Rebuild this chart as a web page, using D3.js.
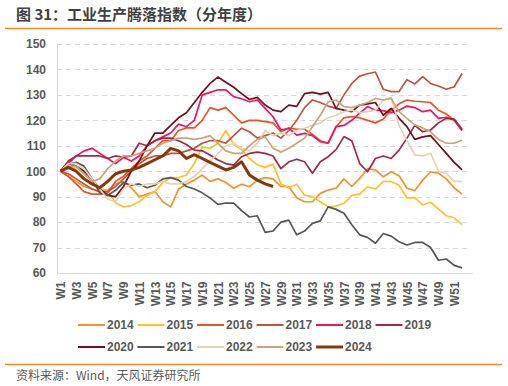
<!DOCTYPE html>
<html>
<head>
<meta charset="utf-8">
<script src="https://cdn.jsdelivr.net/npm/d3@7"></script>
<style>
  body { margin: 0; background: #fff; }
  text { font-family: "Liberation Sans", Arial, "Noto Sans CJK SC", sans-serif; }
  .cjk { font-family: "Noto Sans CJK SC", sans-serif; }
</style>
</head>
<body>
<div id="chart"></div>
<script>
const weeks = d3.range(1, 53).map(i => 'W' + i);
const years = ['2014', '2015', '2016', '2017', '2018', '2019', '2020', '2021', '2022', '2023', '2024'];
const colors = ['#F7922A', '#FFC22E', '#EA5328', '#C5503D', '#F2145C', '#A3284A',
  '#6C111C', '#565656', '#E4D2B4', '#C9A47C', '#84390D'];
const yTicks = [60, 70, 80, 90, 100, 110, 120, 130, 140, 150];

const s2014 = [100, 98, 96, 94, 93, 92, 92.5, 95, 96, 93.5, 90, 91, 92, 88, 86, 93, 95, 96.5, 98.5, 96,
  97, 95.6, 93.3, 94.9, 93.9, 96.5, 97.5, 97, 94, 94, 89.6, 88, 88, 91.3, 92.6, 93.3, 97, 94, 97.2, 101,
  100.5, 97.8, 99.8, 98.2, 93.3, 92.4, 96.5, 99.8, 99.2, 97, 93.5, 91];
const s2015 = [100, 101, 101.5, 99, 96, 93, 92.5, 87.5, 86, 86.5, 88, 90.5, 92, 95.5, 97.5, 97.5, 98.5, 103, 109.5, 109,
  111, 116, 110.5, 108.5, 105, 102.5, 101.5, 102.8, 95, 93.5, 94.9, 90.6, 90, 88, 86, 86.3, 87.4, 90.5, 91, 93.9,
  93, 96, 96, 94.5, 89.5, 89.6, 86.8, 87.8, 85.2, 82.5, 81.7, 79];
const s2016 = [100, 98, 95, 92, 91, 91, 91.5, 96, 98, 101, 104, 106, 109, 112, 112, 116, 117, 117, 120, 125,
  124, 125, 122, 119, 120, 120, 119.5, 119, 115.5, 117, 116.5, 116.5, 114.5, 112, 111, 117.5, 121, 121.5, 121, 120,
  119, 120.5, 124, 126.5, 128, 127.5, 127.3, 127, 124, 122.5, 120, 116];
const s2017 = [100, 99, 97, 95, 93, 92, 92, 94, 97, 100, 103, 105, 106, 106, 107, 107, 108, 109, 111, 112,
  112, 111, 114, 116.9, 115.5, 113, 114, 115, 113, 116, 120, 125, 128, 127, 125.6, 124.7, 130, 134.5, 137.4, 138.3,
  139, 132.2, 131.3, 131.3, 136, 134.3, 137.2, 134.5, 133.5, 132.2, 133.2, 138.4];
const s2018 = [100, 103, 106, 108, 109, 107, 105, 103, 105.5, 104, 106, 110, 112, 113.5, 115, 118.5, 117.5, 120, 130, 131,
  132, 132, 129.3, 128.5, 127.3, 128, 124.7, 121.4, 116.2, 116.9, 114.2, 114.9, 114, 111.6, 111, 117.5, 118, 120, 122.8, 125.4,
  124, 123.8, 123, 124, 125.6, 125, 123.4, 124, 120.8, 121.2, 120.1, 116];
const s2019 = [100, 104, 106, 106, 106, 106, 105, 106, 105.5, 106, 111, 110, 112, 113, 113, 112, 110.5, 108.3, 108, 106.4,
  104.4, 103, 102.4, 105.7, 107, 107.5, 107, 106, 101, 103.7, 104.7, 103.7, 99.2, 103.7, 105.7, 108.5, 113.6, 112, 103, 99.8,
  105, 106, 105, 108.3, 113, 118, 115.5, 116.2, 119, 120.8, 120.5, 116.5];
const s2020 = [100, 103, 102, 100, 97, 93, 90.5, 90, 94, 100, 104, 110, 115, 115, 118, 121, 123, 127, 131, 134.5,
  137, 135, 133, 130.5, 128.2, 129, 126, 124, 123.4, 126, 125.5, 130.5, 131, 130.3, 131, 124.7, 124, 123.4, 126, 126.5,
  127, 122, 124.7, 120.8, 117.5, 112.5, 113.5, 114, 110.5, 107, 103.5, 100.5];
const s2021 = [100, 102.7, 103.5, 102, 97, 91.5, 90.5, 92.5, 95.5, 94.5, 95, 93.5, 94.5, 97, 97.5, 96.5, 94, 93, 91.5, 89.5,
  87, 87.5, 87.5, 84.5, 82, 82.5, 76, 76.5, 80, 80.8, 75, 76.5, 79.5, 80.5, 86, 85, 83.5, 79, 75, 74,
  71.7, 75.5, 74.5, 72.3, 71, 72, 72, 70, 65, 65.5, 63, 62];
const s2022 = [100, 103, 103, 101, 97, 93, 89, 88, 93, 95, 94, 95, 95, 96, 95, 95, 96, 98, 101, 104,
  107, 110, 111, 109, 108, 111, 116, 114, 115, 114, 116, 116.9, 118, 119, 121, 122, 123.4, 124, 123, 123.4,
  124, 128, 129, 118, 112, 106.4, 106, 107, 100, 99.2, 96, 96];
const s2023 = [100, 102, 102, 99, 96, 97, 101, 104, 106, 106, 107, 108, 109, 111, 112, 113, 113, 112.5, 113, 114,
  111, 108, 107, 107, 110, 112.5, 113.5, 109, 107.5, 109, 111, 113, 117.5, 122, 127.3, 128, 125.4, 125, 126, 127,
  128.6, 128, 128.6, 123.4, 120.8, 118.2, 117, 115.5, 112.5, 111, 111, 112.3];
const s2024 = [100, 101.5, 100, 97, 95, 93.5, 96, 99, 100, 100.5, 101.5, 103, 104.5, 106, 109, 108, 105, 106.5, 105, 103.5,
  102, 100.5, 101.5, 103.7, 98.5, 96.5, 95, 94];

const series = [s2014, s2015, s2016, s2017, s2018, s2019, s2020, s2021, s2022, s2023, s2024];

const width = 508, height = 386;
const svg = d3.select('#chart').append('svg')
  .attr('width', width)
  .attr('height', height);

// header
svg.append('text')
  .attr('class', 'cjk')
  .attr('x', 16).attr('y', 20)
  .attr('font-size', 15)
  .attr('font-weight', 'bold')
  .attr('fill', '#404040')
  .text('图 31：工业生产腾落指数（分年度）');

svg.append('line')
  .attr('x1', 5).attr('x2', 502)
  .attr('y1', 28.5).attr('y2', 28.5)
  .attr('stroke', '#F28C28').attr('stroke-width', 1.5);

const x = d3.scalePoint()
  .domain(weeks)
  .range([56.5, 466])
  .padding(0.5);

const y = d3.scaleLinear()
  .domain([60, 150])
  .range([273, 44]);

// grid
svg.append('g')
  .selectAll('line')
  .data(yTicks.filter(d => d > 60))
  .join('line')
  .attr('x1', 57).attr('x2', 468)
  .attr('y1', d => Math.round(y(d)) + 0.5).attr('y2', d => Math.round(y(d)) + 0.5)
  .attr('stroke', '#D9D9D9')
  .attr('stroke-dasharray', '5,4');

// y axis
const yAxis = svg.append('g')
  .attr('transform', 'translate(57,0)')
  .call(d3.axisLeft(y).tickValues(yTicks).tickSize(0).tickPadding(11));
yAxis.select('.domain').attr('stroke', '#D9D9D9');
yAxis.selectAll('text')
  .attr('font-size', 12)
  .attr('font-weight', 'bold')
  .attr('fill', '#595959');

// x axis
const xAxis = svg.append('g')
  .attr('transform', 'translate(0,273.5)')
  .call(d3.axisBottom(x).tickValues(weeks.filter((d, i) => i % 2 === 0)).tickSize(0));
xAxis.select('.domain').attr('stroke', '#D9D9D9').attr('d', 'M57,0H473');
xAxis.selectAll('text')
  .attr('font-size', 12)
  .attr('font-weight', 'bold')
  .attr('fill', '#595959')
  .attr('text-anchor', 'end')
  .attr('transform', 'rotate(-90)')
  .attr('x', -8)
  .attr('y', 0)
  .attr('dy', '0.35em');

// lines
const line = d3.line()
  .x((d, i) => x(weeks[i]))
  .y(d => y(d));

svg.append('g')
  .selectAll('path')
  .data(series)
  .join('path')
  .attr('fill', 'none')
  .attr('stroke', (d, i) => colors[i])
  .attr('stroke-width', (d, i) => i === 10 ? 3 : 1.7)
  .attr('stroke-linejoin', 'round')
  .attr('d', line);

// legend
const legend = svg.append('g');
const item = legend.selectAll('g')
  .data(years)
  .join('g')
  .attr('transform', (d, i) => `translate(${78 + (i % 6) * 59.5},${i < 6 ? 325 : 347})`);
item.append('line')
  .attr('x1', 0).attr('x2', 27)
  .attr('stroke', (d, i) => colors[i])
  .attr('stroke-width', (d, i) => i === 10 ? 3 : 2);
item.append('text')
  .attr('x', 29).attr('dy', '0.35em')
  .attr('font-size', 12)
  .attr('font-weight', 'bold')
  .attr('fill', '#595959')
  .text(d => d);

// footer
svg.append('line')
  .attr('x1', 5).attr('x2', 502)
  .attr('y1', 364.5).attr('y2', 364.5)
  .attr('stroke', '#F28C28').attr('stroke-width', 1.5);

svg.append('text')
  .attr('class', 'cjk')
  .attr('x', 16).attr('y', 380)
  .attr('font-size', 12)
  .attr('fill', '#595959')
  .text('资料来源：Wind，天风证券研究所');
</script>
</body>
</html>
